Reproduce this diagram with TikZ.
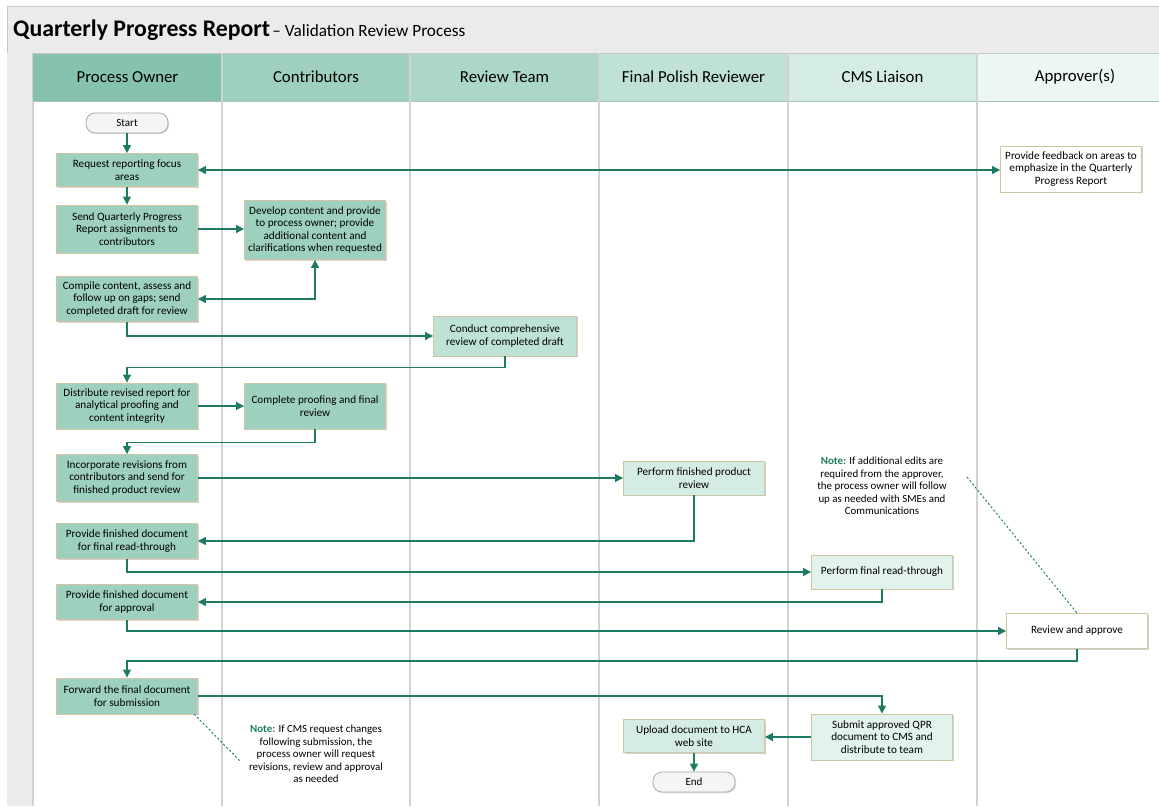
\documentclass[tikz,border=0pt]{standalone}
\usepackage{fontspec}
\setmainfont{Carlito}
\usetikzlibrary{arrows.meta,shadows}
\definecolor{teal}{HTML}{1E7B63}
\definecolor{titlegray}{HTML}{EBEBEB}
\definecolor{framegray}{HTML}{C8C8C8}
\definecolor{lanegray}{HTML}{D2D2D2}
\definecolor{hPO}{HTML}{86C3AE}
\definecolor{hCO}{HTML}{9FCFBF}
\definecolor{hRT}{HTML}{ABD6C8}
\definecolor{hFP}{HTML}{BFE1D6}
\definecolor{hCM}{HTML}{D5ECE4}
\definecolor{hAP}{HTML}{ECF6F2}
\definecolor{bPO}{HTML}{9ED0BF}
\definecolor{bRT}{HTML}{BFE2D7}
\definecolor{bFP}{HTML}{D5ECE5}
\definecolor{bCM}{HTML}{E2F2EC}
\definecolor{boxborder}{HTML}{CFC6A2}
\definecolor{pillfill}{HTML}{F5F5F5}
\definecolor{pillborder}{HTML}{ABABAB}
\tikzset{
  box/.style={draw=boxborder, line width=0.9pt, fill=#1, minimum width=141pt,
    align=center, inner sep=1pt, font=\fontsize{11.2}{12.5}\selectfont,
    drop shadow={shadow xshift=1.2pt, shadow yshift=-1.2pt, fill=black, opacity=0.18}},
  pill/.style={draw=pillborder, line width=0.8pt, fill=pillfill, rounded corners=9pt,
    minimum width=82pt, minimum height=20pt, inner sep=1pt, font=\fontsize{11}{12}\selectfont,
    drop shadow={shadow xshift=1pt, shadow yshift=-1pt, fill=black, opacity=0.15}},
  lanehead/.style={font=\fontsize{16.8}{18}\selectfont, anchor=center},
  flow/.style={draw=teal, line width=1.2pt, -{Triangle[length=8pt,width=8pt]}},
  flowboth/.style={draw=teal, line width=1.2pt, {Triangle[length=8pt,width=8pt]}-{Triangle[length=8pt,width=8pt]}},
  notetext/.style={align=center, font=\fontsize{10.9}{12.4}\selectfont, inner sep=0pt},
  noteline/.style={draw=teal, line width=0.9pt, dash pattern=on 2.2pt off 2pt},
}
\begin{document}
\begin{tikzpicture}[x=1pt,y=-1pt]
\useasboundingbox (0,0) rectangle (1159,806);
\fill[white] (0,0) rectangle (1159,806);
% frame and title bar
\fill[titlegray] (7,6) rectangle (1159,53);
\draw[framegray, line width=0.8pt] (7,806) -- (7,6) -- (1159,6);
\node[anchor=west, inner sep=0pt] (title) at (13,30)
  {{\fontsize{23.8}{26}\selectfont\bfseries Quarterly Progress Report} {\fontsize{17.2}{18}\selectfont \textendash{} Validation Review Process}};
% left strip
\fill[titlegray] (7,53) rectangle (33,806);
\draw[lanegray, line width=1.2pt] (33,53) -- (33,806);
% headers
\fill[hPO] (33,53) rectangle (222,101);
\fill[hCO] (222,53) rectangle (410,101);
\fill[hRT] (410,53) rectangle (599,101);
\fill[hFP] (599,53) rectangle (788,101);
\fill[hCM] (788,53) rectangle (977,101);
\fill[hAP] (977,53) rectangle (1159,101);
\draw[hPO!80!black!60, line width=0.8pt] (33,101) -- (1159,101);
\draw[framegray, line width=0.8pt] (33,53) -- (1159,53);
\foreach \x in {222,410,599,788,977} {
  \draw[lanegray, line width=1.5pt] (\x,53) -- (\x,806);
}
\node[lanehead] (hpo) at (127.5,77) {Process Owner};
\node[lanehead] (hco) at (316,77) {Contributors};
\node[lanehead] (hrt) at (504.5,77) {Review Team};
\node[lanehead] (hfp) at (693.5,77) {Final Polish Reviewer};
\node[lanehead] (hcm) at (882.5,77) {CMS Liaison};
\node[lanehead] (hap) at (1075,77) {Approver(s)};
% nodes
\node[pill] (start) at (127,123) {Start};
\node[box=bPO, minimum height=33] (request) at (127,170) {Request reporting focus\\areas};
\node[box=white, minimum height=46] (feedback) at (1071,169) {Provide feedback on areas to\\emphasize in the Quarterly\\Progress Report};
\node[box=bPO, minimum height=48] (send) at (127,229) {Send Quarterly Progress\\Report assignments to\\contributors};
\node[box=bPO, minimum height=59] (develop) at (315,230) {Develop content and provide\\to process owner; provide\\additional content and\\clarifications when requested};
\node[box=bPO, minimum height=45] (compile) at (127,299) {Compile content, assess and\\follow up on gaps; send\\completed draft for review};
\node[box=bRT, minimum height=40, minimum width=143] (conduct) at (505,336) {Conduct comprehensive\\review of completed draft};
\node[box=bPO, minimum height=46] (distribute) at (127,406) {Distribute revised report for\\analytical proofing and\\content integrity};
\node[box=bPO, minimum height=46] (complete) at (315,406) {Complete proofing and final\\review};
\node[box=bPO, minimum height=47] (incorporate) at (127,478) {Incorporate revisions from\\contributors and send for\\finished product review};
\node[box=bFP, minimum height=34] (pfpr) at (694,478) {Perform finished product\\review};
\node[box=bPO, minimum height=35] (readthru) at (127,541) {Provide finished document\\for final read-through};
\node[box=bCM, minimum height=34] (pfrt) at (882,572) {Perform final read-through};
\node[box=bPO, minimum height=35] (papproval) at (127,602) {Provide finished document\\for approval};
\node[box=white, minimum height=35] (review) at (1077,631) {Review and approve};
\node[box=bPO, minimum height=36] (forward) at (127,696) {Forward the final document\\for submission};
\node[box=bCM, minimum height=46] (submit) at (882,737) {Submit approved QPR\\document to CMS and\\distribute to team};
\node[box=bFP, minimum height=33] (upload) at (694,736) {Upload document to HCA\\web site};
\node[pill] (end) at (694,782) {End};
% notes
\node[notetext] (note1) at (316,754) {\textcolor{teal}{\bfseries Note:} If CMS request changes\\following submission, the\\process owner will request\\revisions, review and approval\\as needed};
\node[notetext] (note2) at (882,486) {\textcolor{teal}{\bfseries Note:} If additional edits are\\required from the approver,\\the process owner will follow\\up as needed with SMEs and\\Communications};
\coordinate (n1a) at (194,714);
\coordinate (n1b) at (241,762);
\coordinate (n2a) at (967,477);
\draw[noteline] (n1a) -- (n1b);
\draw[noteline] (n2a) -- (review.north);
% connectors
\draw[flow] (start) -- (request);
\draw[flowboth] (request.east) -- (request.east -| feedback.west);
\draw[flow] (request) -- (send);
\draw[flow] (send.east) -- (send.east -| develop.west);
\draw[flowboth] (develop.south) |- (compile.east);
\draw[flow] (compile.south) |- (conduct.west);
\draw[flow] (conduct.south) -- ++(0,11) -| (distribute.north);
\draw[flow] (distribute.east) -- (complete.west);
\draw[flow] (complete.south) -- ++(0,13) -| (incorporate.north);
\draw[flow] (incorporate.east) -- (pfpr.west);
\draw[flow] (pfpr.south) |- (readthru.east);
\draw[flow] (readthru.south) |- (pfrt.west);
\draw[flow] (pfrt.south) |- (papproval.east);
\draw[flow] (papproval.south) |- (review.west);
\draw[flow] (review.south) -- ++(0,12) -| (forward.north);
\draw[flow] (forward.east) -| (submit.north);
\draw[flow] (submit.west) -- (submit.west -| upload.east);
\draw[flow] (upload) -- (end);
\end{tikzpicture}
\end{document}
